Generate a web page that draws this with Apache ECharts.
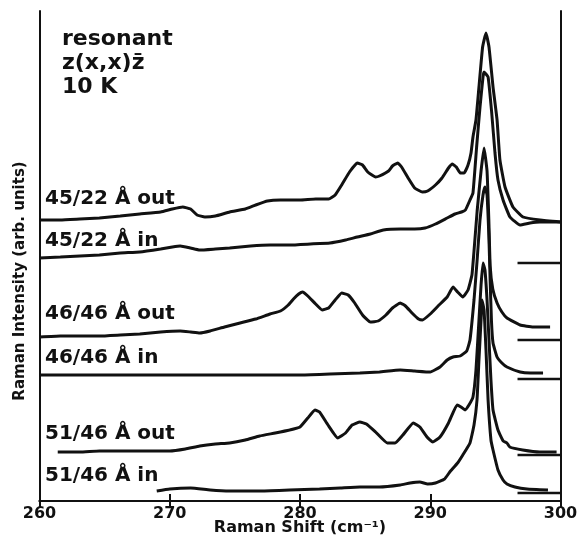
<!DOCTYPE html>
<html lang="en">
<head>
    <meta charset="UTF-8">
    <title>Resonant Raman spectra</title>
    <style>
        html, body { margin: 0; padding: 0; background: #fff; }
        #main { width: 585px; height: 538px; }
    </style>
</head>
<body>
<div id="main"></div>
<script src="https://cdn.jsdelivr.net/npm/echarts@6/dist/echarts.min.js"></script>
<script>
    // x ticks (Raman shift, cm-1)
    var xTicks = [260, 270, 280, 290, 300];

    // each spectrum: [shift, intensity (arb. units, offset already applied)]
    var out4522 = [[260.0,281],[261.6,281],[263.1,282],[264.6,283],[266.2,285],[267.7,287],[269.3,289],[270.2,292],[271.0,294],
        [271.6,292],[272.1,286],[272.7,284],[273.5,285],[274.6,289],[275.8,292],[276.6,296],[277.5,300],[278.5,301],[280.0,301],
        [281.2,302],[282.2,302],[282.7,306],[283.2,316],[283.8,329],[284.4,338],[284.8,336],[285.2,329],[285.8,324],[286.1,325],
        [286.8,330],[287.1,335],[287.5,338],[287.8,334],[288.3,323],[288.8,313],[289.4,309],[289.8,310],[290.4,316],[290.9,323],
        [291.4,333],[291.7,337],[292.0,334],[292.3,328],[292.6,328],[292.9,336],[293.13,348],[293.28,364],[293.51,381],[293.74,414],
        [294.02,454],[294.28,468],[294.51,454],[294.82,414],[295.13,381],[295.35,341],[295.74,314],[296.35,294],[297.12,284],
        [298.43,281],[300.0,279]];
    var in4522 = [[260.0,243],[261.6,244],[263.1,245],[264.6,246],[266.2,248],[267.7,249],[269.3,252],[270.2,254],[270.8,255],
        [271.6,253],[272.3,251],[273.5,252],[274.6,253],[276.2,255],[277.7,256],[279.2,256],[280.8,257],[282.3,258],[283.5,261],
        [284.4,264],[285.4,267],[286.4,271],[287.7,272],[288.8,272],[289.6,273],[290.4,277],[291.3,283],[291.9,287],[292.4,289],
        [292.7,291],[293.05,301],[293.28,308],[293.56,354],[293.82,394],[294.05,424],[294.13,429],[294.44,424],[294.72,388],
        [294.97,348],[295.2,321],[295.59,301],[296.12,284],[296.89,276],[297.66,278],[298.43,279],[300.0,279]];
    var out4646 = [[260.0,164],[261.6,165],[263.1,165],[264.6,165],[266.2,166],[267.7,167],[269.3,169],[270.8,170],[271.6,169],
        [272.3,168],[273.1,170],[274.2,174],[275.4,178],[276.6,182],[277.7,187],[278.5,190],[279.1,196],[279.5,202],[279.9,207],
        [280.2,209],[280.6,205],[281.2,197],[281.7,191],[282.2,193],[282.7,201],[283.2,208],[283.7,206],[284.2,198],[284.8,186],
        [285.4,179],[286.0,180],[286.6,186],[287.1,193],[287.7,198],[288.1,195],[288.6,188],[289.1,182],[289.4,181],[290.0,187],
        [290.6,195],[291.3,204],[291.75,214],[292.1,209],[292.5,204],[292.9,211],[293.2,226],[293.36,250],[293.6,290],[293.9,330],
        [294.13,353],[294.36,330],[294.5,280],[294.6,235],[294.8,212],[295.13,198],[295.5,189],[295.89,183],[296.9,176],
        [297.9,174],[299.2,174]];
    var in4646 = [[260.0,126],[263.1,126],[266.2,126],[269.3,126],[272.3,126],[275.4,126],[278.5,126],[280.0,126],[282.3,127],
        [284.6,128],[286.1,129],[287.7,131],[288.8,130],[290.0,129],[290.75,134],[291.3,141],[291.75,144],[292.3,145],[292.8,150],
        [293.05,161],[293.36,201],[293.6,241],[293.82,281],[294.05,306],[294.2,314],[294.36,306],[294.51,261],[294.6,220],
        [294.7,180],[294.82,158],[295.13,144],[295.5,138],[295.89,134],[296.9,129],[297.7,128],[298.66,128]];
    var out5146 = [[261.4,49],[263.1,49],[264.6,50],[266.2,50],[267.7,50],[269.3,50],[270.0,50],[271.2,52],[272.3,55],[273.5,57],
        [274.6,58],[275.8,61],[276.9,65],[278.1,68],[279.2,71],[280.0,74],[280.6,83],[281.15,91],[281.5,89],[282.15,76],[282.9,63],
        [283.5,68],[284.0,76],[284.6,79],[285.1,77],[285.8,69],[286.7,58],[287.3,58],[287.9,66],[288.7,78],[289.2,74],[289.75,64],
        [290.2,59],[290.75,64],[291.4,78],[292.06,96],[292.36,94],[292.67,91],[292.97,96],[293.28,104],[293.51,131],[293.74,181],
        [293.9,216],[294.05,238],[294.2,231],[294.36,201],[294.51,161],[294.66,121],[294.82,91],[295.2,71],[295.6,60],[295.89,58],
        [296.1,54],[297.1,51],[298.4,49],[299.7,49]];
    var in5146 = [[269.0,10],[270.0,12],[271.6,13],[273.1,11],[274.6,10],[276.9,10],[279.2,11],[281.5,12],[283.1,13],[284.6,14],
        [286.1,14],[287.7,16],[288.45,18],[289.2,19],[289.8,17],[290.4,18],[291.1,22],[291.5,29],[292.1,38],[292.5,46],[293.05,58],
        [293.36,76],[293.59,101],[293.74,141],[293.9,181],[293.97,201],[294.13,191],[294.28,151],[294.44,101],[294.66,61],
        [294.82,51],[295.2,31],[295.59,21],[295.89,17],[296.5,14],[297.43,12],[299.04,11]];

    // short baseline marks at the right edge
    var baselineMarks = [238, 161, 122, 46, 8];
    var markStart = 296.7;

    var labelNames = ['45/22 Å out', '45/22 Å in', '46/46 Å out', '46/46 Å in', '51/46 Å out', '51/46 Å in'];

    window.onload = function () {
        var chart = echarts.init(document.getElementById('main'), null, {renderer: 'canvas'});
        var ink = '#111';
        var spectra = [out4522, in4522, out4646, in4646, out5146, in5146];
        var series = [];
        spectra.forEach(function (d, i) {
            series.push({
                name: labelNames[i], type: 'line', data: d, showSymbol: false, smooth: 0.12,
                lineStyle: {color: ink, width: 3}, z: 3, animation: false
            });
        });
        baselineMarks.forEach(function (v) {
            series.push({
                type: 'line', data: [[markStart, v], [300, v]], showSymbol: false,
                lineStyle: {color: ink, width: 2.5}, animation: false
            });
        });

        // spectrum labels (cap-centre y in px)
        var labelY = [199, 241, 314, 358, 434, 476];
        var graphics = labelNames.map(function (t, i) {
            return {
                type: 'text', x: 45, y: labelY[i],
                style: {text: t, font: 'bold 20px "DejaVu Sans"', fill: ink, align: 'left', verticalAlign: 'middle'}
            };
        });
        var note = ['resonant', 'z(x,x)z\u0304', '10 K'];
        note.forEach(function (t, i) {
            graphics.push({
                type: 'text', x: 62, y: 39 + i * 24,
                style: {text: t, font: 'bold 22px "DejaVu Sans"', fill: ink, align: 'left', verticalAlign: 'middle'}
            });
        });
        graphics.push({
            type: 'text', x: 20, y: 281, rotation: Math.PI / 2,
            style: {text: 'Raman Intensity (arb. units)', font: 'bold 15px "DejaVu Sans"', fill: ink,
                align: 'center', verticalAlign: 'middle'}
        });
        graphics.push({
            type: 'text', x: 300, y: 528,
            style: {text: 'Raman Shift (cm\u207B\u00B9)', font: 'bold 16px "DejaVu Sans"', fill: ink,
                align: 'center', verticalAlign: 'middle'}
        });

        var option = {
            backgroundColor: '#fff',
            animation: false,
            grid: {left: 39.5, right: 24.5, top: 11, bottom: 37, outerBoundsMode: 'none'},
            xAxis: [{
                type: 'value', min: xTicks[0], max: xTicks[xTicks.length - 1], interval: 10, position: 'bottom',
                axisLine: {lineStyle: {color: ink, width: 2}},
                axisTick: {inside: true, length: 7, lineStyle: {color: ink, width: 2}},
                axisLabel: {color: ink, fontSize: 16, fontWeight: 'bold', fontFamily: 'DejaVu Sans', margin: 5},
                splitLine: {show: false}
            }, {
                type: 'value', min: xTicks[0], max: xTicks[xTicks.length - 1], interval: 10, position: 'top',
                axisLine: {lineStyle: {color: ink, width: 2}},
                axisTick: {inside: true, length: 7, lineStyle: {color: ink, width: 2}},
                axisLabel: {show: false}, splitLine: {show: false}
            }],
            yAxis: [{
                type: 'value', min: 0, max: 490, position: 'left',
                axisLine: {show: true, lineStyle: {color: ink, width: 2}},
                axisTick: {show: false}, axisLabel: {show: false}, splitLine: {show: false}
            }, {
                type: 'value', min: 0, max: 490, position: 'right',
                axisLine: {show: true, lineStyle: {color: ink, width: 2}},
                axisTick: {show: false}, axisLabel: {show: false}, splitLine: {show: false}
            }],
            graphic: graphics,
            series: series
        };
        chart.setOption(option);
    };
</script>
</body>
</html>
